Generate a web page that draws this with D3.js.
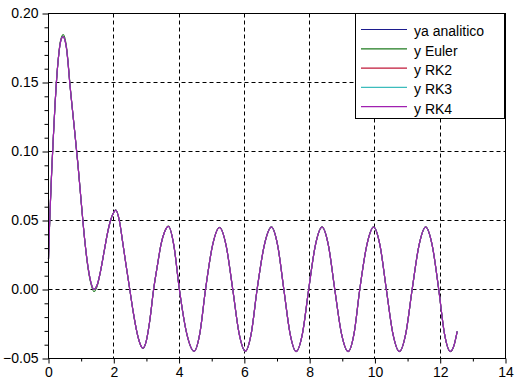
<!DOCTYPE html>
<html>
<head>
<meta charset="utf-8">
<script src="https://cdn.jsdelivr.net/npm/d3@7"></script>
<style>
  html, body { margin: 0; padding: 0; background: #fff; }
  svg { display: block; font-family: "Liberation Sans", Arial, sans-serif; }
</style>
</head>
<body>
<svg id="chart" width="518" height="386"></svg>
<script>
// ---- data ----
const tValues = [
  0.00, 0.03, 0.06, 0.10, 0.15, 0.20, 0.25, 0.30, 0.35, 0.40,
  0.45, 0.50, 0.55, 0.60, 0.65, 0.70, 0.80, 0.90, 1.00, 1.10,
  1.20, 1.30, 1.39, 1.50, 1.60, 1.70, 1.80, 1.90, 2.00, 2.06,
  2.17, 2.28, 2.38, 2.49, 2.60, 2.70, 2.80, 2.89, 3.00, 3.10,
  3.22, 3.34, 3.45, 3.56, 3.675, 3.84, 4.01, 4.235, 4.46, 4.635,
  4.81, 5.025, 5.24, 5.44, 5.645, 5.84, 6.03, 6.21, 6.39, 6.61,
  6.83, 7.02, 7.21, 7.40, 7.585, 7.78, 7.97, 8.175, 8.38, 8.575,
  8.77, 8.975, 9.18, 9.36, 9.535, 9.75, 9.96, 10.155, 10.35, 10.55,
  10.75, 10.945, 11.14, 11.35, 11.555, 11.755, 11.955, 12.13, 12.31, 12.42,
  12.52
];
const yAnalitico = [
  0.022, 0.045, 0.064, 0.087, 0.111, 0.134, 0.153, 0.167, 0.177, 0.182,
  0.1833, 0.181, 0.175, 0.164, 0.150, 0.138, 0.115, 0.091, 0.064, 0.038,
  0.018, 0.005, 0.000, 0.004, 0.014, 0.027, 0.040, 0.050, 0.056, 0.0575,
  0.050, 0.033, 0.017, 0.000, -0.017, -0.030, -0.039, -0.0425, -0.0368, -0.023,
  0.000, 0.018, 0.033, 0.042, 0.0457, 0.032, 0.000, -0.032, -0.0447, -0.032,
  0.000, 0.032, 0.0449, 0.032, 0.000, -0.032, -0.0447, -0.032, 0.000, 0.032,
  0.0452, 0.032, 0.000, -0.032, -0.0449, -0.032, 0.000, 0.032, 0.0452, 0.032,
  0.000, -0.032, -0.0449, -0.032, 0.000, 0.032, 0.0452, 0.032, 0.000, -0.032,
  -0.0449, -0.032, 0.000, 0.032, 0.0452, 0.032, 0.000, -0.032, -0.0449, -0.0407,
  -0.0304
];
const yEuler = [
  0.022, 0.045, 0.064, 0.087, 0.111, 0.134, 0.153, 0.167, 0.178, 0.183,
  0.1848, 0.1825, 0.176, 0.165, 0.151, 0.138, 0.115, 0.091, 0.064, 0.038,
  0.017, 0.004, -0.0015, 0.003, 0.014, 0.027, 0.040, 0.050, 0.056, 0.0578,
  0.050, 0.033, 0.017, 0.000, -0.017, -0.030, -0.039, -0.0428, -0.0368, -0.023,
  0.000, 0.018, 0.033, 0.042, 0.0459, 0.032, 0.000, -0.032, -0.0449, -0.032,
  0.000, 0.032, 0.0451, 0.032, 0.000, -0.032, -0.0449, -0.032, 0.000, 0.032,
  0.0454, 0.032, 0.000, -0.032, -0.0451, -0.032, 0.000, 0.032, 0.0454, 0.032,
  0.000, -0.032, -0.0451, -0.032, 0.000, 0.032, 0.0454, 0.032, 0.000, -0.032,
  -0.0451, -0.032, 0.000, 0.032, 0.0454, 0.032, 0.000, -0.032, -0.0451, -0.0408,
  -0.0305
];
const yRK2 = [
  0.022, 0.045, 0.064, 0.087, 0.111, 0.134, 0.153, 0.167, 0.177, 0.182,
  0.1833, 0.181, 0.175, 0.164, 0.150, 0.138, 0.115, 0.091, 0.064, 0.038,
  0.018, 0.005, 0.000, 0.004, 0.014, 0.027, 0.040, 0.050, 0.056, 0.0575,
  0.050, 0.033, 0.017, 0.000, -0.017, -0.030, -0.039, -0.0425, -0.0368, -0.023,
  0.000, 0.018, 0.033, 0.042, 0.0457, 0.032, 0.000, -0.032, -0.0447, -0.032,
  0.000, 0.032, 0.0449, 0.032, 0.000, -0.032, -0.0447, -0.032, 0.000, 0.032,
  0.0452, 0.032, 0.000, -0.032, -0.0449, -0.032, 0.000, 0.032, 0.0452, 0.032,
  0.000, -0.032, -0.0449, -0.032, 0.000, 0.032, 0.0452, 0.032, 0.000, -0.032,
  -0.0449, -0.032, 0.000, 0.032, 0.0452, 0.032, 0.000, -0.032, -0.0449, -0.0407,
  -0.0304
];
const yRK3 = [
  0.022, 0.045, 0.064, 0.087, 0.111, 0.134, 0.153, 0.167, 0.177, 0.182,
  0.1833, 0.181, 0.175, 0.164, 0.150, 0.138, 0.115, 0.091, 0.064, 0.038,
  0.018, 0.005, 0.000, 0.004, 0.014, 0.027, 0.040, 0.050, 0.056, 0.0575,
  0.050, 0.033, 0.017, 0.000, -0.017, -0.030, -0.039, -0.0425, -0.0368, -0.023,
  0.000, 0.018, 0.033, 0.042, 0.0457, 0.032, 0.000, -0.032, -0.0447, -0.032,
  0.000, 0.032, 0.0449, 0.032, 0.000, -0.032, -0.0447, -0.032, 0.000, 0.032,
  0.0452, 0.032, 0.000, -0.032, -0.0449, -0.032, 0.000, 0.032, 0.0452, 0.032,
  0.000, -0.032, -0.0449, -0.032, 0.000, 0.032, 0.0452, 0.032, 0.000, -0.032,
  -0.0449, -0.032, 0.000, 0.032, 0.0452, 0.032, 0.000, -0.032, -0.0449, -0.0407,
  -0.0304
];
const yRK4 = [
  0.022, 0.045, 0.064, 0.087, 0.111, 0.134, 0.153, 0.167, 0.177, 0.182,
  0.1833, 0.181, 0.175, 0.164, 0.150, 0.138, 0.115, 0.091, 0.064, 0.038,
  0.018, 0.005, 0.000, 0.004, 0.014, 0.027, 0.040, 0.050, 0.056, 0.0575,
  0.050, 0.033, 0.017, 0.000, -0.017, -0.030, -0.039, -0.0425, -0.0368, -0.023,
  0.000, 0.018, 0.033, 0.042, 0.0457, 0.032, 0.000, -0.032, -0.0447, -0.032,
  0.000, 0.032, 0.0449, 0.032, 0.000, -0.032, -0.0447, -0.032, 0.000, 0.032,
  0.0452, 0.032, 0.000, -0.032, -0.0449, -0.032, 0.000, 0.032, 0.0452, 0.032,
  0.000, -0.032, -0.0449, -0.032, 0.000, 0.032, 0.0452, 0.032, 0.000, -0.032,
  -0.0449, -0.032, 0.000, 0.032, 0.0452, 0.032, 0.000, -0.032, -0.0449, -0.0407,
  -0.0304
];
const seriesNames = ["ya analitico", "y Euler", "y RK2", "y RK3", "y RK4"];
const seriesColors = ["#1c1c8e", "#1e7a1e", "#c01838", "#3cbcbc", "#a020b0"];
const xTickValues = [0, 2, 4, 6, 8, 10, 12, 14];
const xMinorTicks = [1, 3, 5, 7, 9, 11, 13];
const yTickValues = [-0.05, 0.00, 0.05, 0.10, 0.15, 0.20];

// ---- drawing ----
const series = [yAnalitico, yEuler, yRK2, yRK3, yRK4];
series.forEach((s, i) => { if (s.length !== tValues.length) throw new Error("length mismatch " + seriesNames[i] + " " + s.length + " vs " + tValues.length); });

const svg = d3.select("#chart");
const L = 48.5, R = 505.5, T = 13.5, B = 358.5;
const x = d3.scaleLinear().domain([0, 14]).range([L, R]);
const y = d3.scaleLinear().domain([-0.05, 0.20]).range([B, T]);
const yMinor = d3.range(-0.05, 0.2001, 0.01).map(v => Math.round(v * 1000) / 1000)
  .filter(v => !yTickValues.some(t => Math.abs(t - v) < 1e-6));

svg.append("rect").attr("width", 518).attr("height", 386).attr("fill", "#fff");

// grid
const grid = svg.append("g").attr("stroke", "#000").attr("stroke-width", 1).attr("stroke-dasharray", "4,3");
grid.selectAll("line.gx").data(xTickValues.filter(v => v > 0 && v < 14)).join("line")
  .attr("x1", d => Math.round(x(d) - 0.5) + 0.5).attr("x2", d => Math.round(x(d) - 0.5) + 0.5)
  .attr("y1", T).attr("y2", B);
grid.selectAll("line.gy").data(yTickValues.filter(v => v > -0.05 && v < 0.2)).join("line")
  .attr("y1", d => Math.round(y(d) - 0.5) + 0.5).attr("y2", d => Math.round(y(d) - 0.5) + 0.5)
  .attr("x1", L).attr("x2", R);

// curves
const line = d3.line()
  .x((d, i) => x(tValues[i]))
  .y(d => y(d))
  .curve(d3.curveMonotoneX);
series.forEach((s, i) => {
  svg.append("path").datum(s)
    .attr("fill", "none")
    .attr("stroke", seriesColors[i])
    .attr("stroke-width", i === series.length - 1 ? 1.2 : 1.1)
    .attr("d", line);
});

// frame
svg.append("rect").attr("x", L).attr("y", T).attr("width", R - L).attr("height", B - T)
  .attr("fill", "none").attr("stroke", "#000").attr("stroke-width", 1);

// axes
const fmtY = d3.format(".2f");
const axL = svg.append("g").attr("transform", `translate(${L},0)`)
  .call(d3.axisLeft(y).tickValues(yTickValues).tickFormat(fmtY).tickSize(6).tickSizeOuter(0).tickPadding(4));
const axLm = svg.append("g").attr("transform", `translate(${L},0)`)
  .call(d3.axisLeft(y).tickValues(yMinor).tickFormat("").tickSize(4).tickSizeOuter(0));
const axB = svg.append("g").attr("transform", `translate(0,${B})`)
  .call(d3.axisBottom(x).tickValues(xTickValues).tickFormat(d3.format("d")).tickSize(5).tickSizeOuter(0).tickPadding(4));
const axBm = svg.append("g").attr("transform", `translate(0,${B})`)
  .call(d3.axisBottom(x).tickValues(xMinorTicks).tickFormat("").tickSize(3).tickSizeOuter(0));
[axL, axLm, axB, axBm].forEach(g => {
  g.select(".domain").remove();
  g.selectAll("text").attr("font-size", 14).attr("fill", "#000")
    .attr("font-family", "'Liberation Sans', Arial, sans-serif");
  g.selectAll("line").attr("stroke", "#000");
});

// legend
const lg = svg.append("g");
lg.append("rect").attr("x", 355.5).attr("y", T).attr("width", 149).attr("height", 105)
  .attr("fill", "#fff").attr("stroke", "#000").attr("stroke-width", 1);
seriesNames.forEach((name, i) => {
  const ly = 29.5 + i * 19.3;
  lg.append("line").attr("x1", 361).attr("x2", 407).attr("y1", ly).attr("y2", ly)
    .attr("stroke", seriesColors[i]).attr("stroke-width", 1.2);
  lg.append("text").attr("x", 414).attr("y", ly + 2).attr("dy", "0.35em")
    .attr("font-size", 14).attr("fill", "#000").text(name);
});
</script>
</body>
</html>
